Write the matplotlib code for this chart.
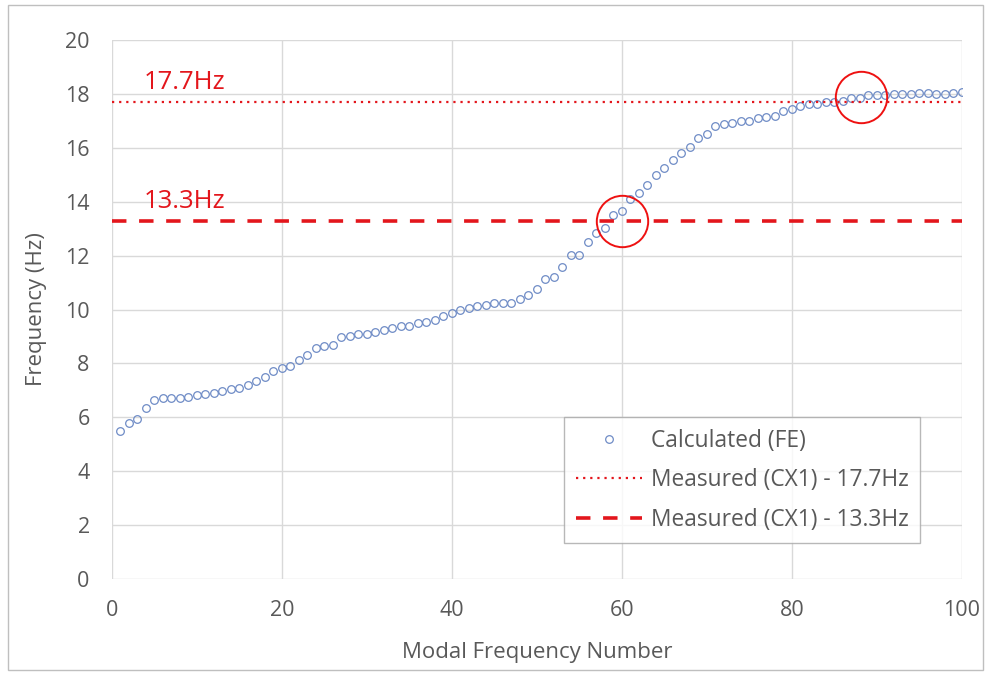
import matplotlib
matplotlib.use('Agg')

import matplotlib.pyplot as plt
from matplotlib.patches import Rectangle

plt.rcParams['font.family'] = ['Open Sans', 'DejaVu Sans']

# Calculated (FE) modal frequencies
mode_number = list(range(1, 101))
freq_fe = [
    5.50, 5.80, 5.93, 6.36, 6.64, 6.73, 6.73, 6.73, 6.77, 6.82,
    6.85, 6.89, 6.98, 7.06, 7.10, 7.19, 7.33, 7.51, 7.72, 7.82,
    7.91, 8.13, 8.32, 8.57, 8.65, 8.68, 8.97, 9.02, 9.09, 9.09,
    9.18, 9.25, 9.30, 9.39, 9.39, 9.50, 9.54, 9.62, 9.76, 9.87,
    9.98, 10.06, 10.13, 10.18, 10.23, 10.23, 10.25, 10.40, 10.53, 10.77,
    11.14, 11.19, 11.59, 12.01, 12.01, 12.50, 12.83, 13.01, 13.52, 13.66,
    14.09, 14.33, 14.62, 14.98, 15.24, 15.55, 15.81, 16.04, 16.36, 16.50,
    16.82, 16.87, 16.91, 16.98, 16.98, 17.11, 17.14, 17.18, 17.35, 17.44,
    17.54, 17.64, 17.64, 17.69, 17.69, 17.75, 17.84, 17.84, 17.95, 17.97,
    17.97, 18.00, 18.00, 18.00, 18.03, 18.03, 18.01, 18.01, 18.04, 18.06,
]

measured = [17.7, 13.3]
measured_labels = ['17.7Hz', '13.3Hz']
legend_labels = ['Calculated (FE)', 'Measured (CX1) - 17.7Hz', 'Measured (CX1) - 13.3Hz']

# highlighted crossings (mode number, frequency)
highlight_x = [60.0, 88.1]
highlight_y = [13.3, 17.9]

red = '#e3161c'
grey_text = '#595959'
grid_col = '#d9d9d9'

fig = plt.figure(figsize=(9.89, 6.75), dpi=100)
ax = fig.add_axes([0.1132, 0.1422, 0.8595, 0.7985])

# thin border round the chart area
fig.patches.append(Rectangle((0.008, 0.007), 0.986, 0.985, transform=fig.transFigure,
                             fill=False, edgecolor='#bfbfbf', linewidth=1.0))

pts, = ax.plot(mode_number, freq_fe, linestyle='none', marker='o', markersize=5.5,
               markerfacecolor='none', markeredgecolor='#6f8cc6', markeredgewidth=0.9)
l1 = ax.axhline(measured[0], color=red, linestyle=(0, (1, 2.2)), linewidth=1.6)
l2 = ax.axhline(measured[1], color=red, linestyle=(0, (4, 3.5)), linewidth=2.6)

ax.plot(highlight_x, highlight_y, linestyle='none', marker='o', markersize=37,
        markerfacecolor='none', markeredgecolor='#ee1111', markeredgewidth=1.4)

ax.text(3.7, measured[0] + 0.25, measured_labels[0], color=red, fontsize=18.5, va='bottom')
ax.text(3.7, measured[1] + 0.25, measured_labels[1], color=red, fontsize=18.5, va='bottom')

ax.set_xlim(0, 100)
ax.set_ylim(0, 20)
ax.set_xticks(range(0, 101, 20))
ax.set_yticks(range(0, 21, 2))
ax.grid(True, color=grid_col, linewidth=1.0)
ax.set_axisbelow(True)
for s in ["bottom", "top", "right", "left"]:
    ax.spines[s].set_visible(False)
ax.tick_params(length=0, labelsize=15.5, labelcolor=grey_text)
ax.tick_params(axis='x', pad=15)
ax.tick_params(axis='y', pad=16)

ax.set_xlabel('Modal Frequency Number', fontsize=16, color=grey_text, labelpad=15)
ax.set_ylabel('Frequency (Hz)', fontsize=16, color=grey_text, labelpad=13)

leg = ax.legend([pts, l1, l2], legend_labels, loc='lower right',
                bbox_to_anchor=(0.9506, 0.0668), borderaxespad=0, fontsize=16.4,
                frameon=True, fancybox=False, borderpad=0.5, labelspacing=0.68,
                handlelength=2.9, handletextpad=0.4, labelcolor=grey_text)
leg.get_frame().set_edgecolor('#a6a6a6')
leg.get_frame().set_linewidth(1.0)

fig.savefig('out.png', dpi=100)
